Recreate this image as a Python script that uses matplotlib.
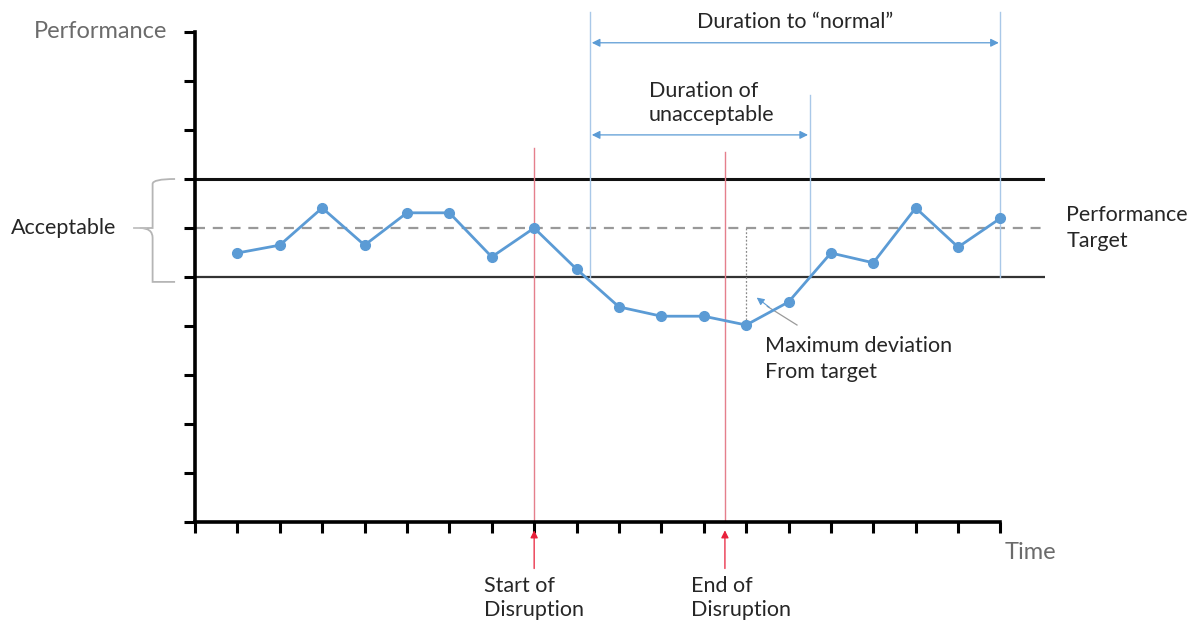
import matplotlib.pyplot as plt
import numpy as np
from matplotlib.path import Path
from matplotlib.patches import PathPatch

# ---------------- datos ----------------
tiempo = list(range(1, 20))
rendimiento = [5.49, 5.65, 6.41, 5.65, 6.31, 6.31, 5.41, 6.0, 5.16, 4.39,
               4.2, 4.2, 4.02, 4.49, 5.49, 5.29, 6.41, 5.61, 6.2]
objetivo = 6.0
banda_sup = 7.0
banda_inf = 5.0
inicio_disrupcion = 8.0
fin_disrupcion = 12.5
t_fuera = 9.32        # salida de la banda aceptable
t_vuelta = 14.5       # vuelta a la banda
t_normal = 19.0       # vuelta a "normal"
t_max_desv = 13.0
y_max_desv = 4.02

plt.rcParams.update({
    'font.family': ['Lato', 'DejaVu Sans'],
    'font.size': 15.5,
})

W, H = 1193, 628
fig = plt.figure(figsize=(W / 100, H / 100), dpi=100)
ax = fig.add_axes([195 / W, 1 - 522 / H, (1045 - 195) / W, (522 - 32) / H])
ax.set_xlim(0, 20.05)
ax.set_ylim(0, 10)

azul = '#5B9BD5'
azul_claro = '#A9C8E8'
rojo = '#E57F8C'
gris_txt = '#6b6b6b'
negro_txt = '#262626'

# ejes
for s in ['top', 'right']:
    ax.spines[s].set_visible(False)
ax.spines['left'].set_linewidth(2.6)
ax.spines['bottom'].set_linewidth(2.6)
ax.spines['bottom'].set_bounds(0, 19)
ax.set_xticks(np.arange(0, 20))
ax.set_yticks(np.arange(0, 11))
ax.tick_params(axis='both', length=8, width=2.2, labelbottom=False, labelleft=False)

# banda aceptable y objetivo
ax.axhline(banda_sup, color='#111111', lw=2.2, zorder=1)
ax.axhline(banda_inf, color='#333333', lw=1.6, zorder=1)
ax.axhline(objetivo, color='#999999', lw=1.6, ls=(0, (4.5, 3.5)), zorder=1)

# lineas rojas de disrupcion
ax.plot([inicio_disrupcion] * 2, [0, 7.63], color=rojo, lw=1.0, zorder=2)
ax.plot([fin_disrupcion] * 2, [0, 7.55], color=rojo, lw=1.0, zorder=2)
for xr in [inicio_disrupcion, fin_disrupcion]:
    ax.annotate('', xy=(xr, -0.17), xytext=(xr, -0.95),
                arrowprops=dict(arrowstyle='-|>', color='#E8203A', lw=0.9,
                                mutation_scale=11, shrinkA=0, shrinkB=0),
                annotation_clip=False)

# lineas azules verticales
ax.plot([t_fuera] * 2, [banda_inf, 10.41], color=azul_claro, lw=1.0, clip_on=False, zorder=2)
ax.plot([t_vuelta] * 2, [banda_inf, 8.71], color=azul_claro, lw=1.0, clip_on=False, zorder=2)
ax.plot([t_normal] * 2, [banda_inf, 10.41], color=azul_claro, lw=1.0, clip_on=False, zorder=2)

# flechas de duracion
flecha = dict(arrowstyle='<|-|>', color=azul, lw=0.9, mutation_scale=12, shrinkA=0, shrinkB=0)
ax.annotate('', xy=(t_fuera + 0.04, 9.78), xytext=(t_normal - 0.04, 9.78),
            arrowprops=flecha, annotation_clip=False)
ax.annotate('', xy=(t_fuera + 0.04, 7.9), xytext=(t_vuelta - 0.04, 7.9),
            arrowprops=flecha, annotation_clip=False)
ax.text(14.15, 10.2, 'Duration to \u201cnormal\u201d', ha='center', va='center',
        color=negro_txt, clip_on=False)
ax.text(10.7, 8.55, 'Duration of\nunacceptable', ha='left', va='center',
        color=negro_txt, linespacing=1.3, clip_on=False)

# serie
ax.plot(tiempo, rendimiento, color=azul, lw=2.0, marker='o', ms=7,
        markerfacecolor=azul, markeredgecolor=azul, zorder=4)

# desviacion maxima
ax.plot([t_max_desv] * 2, [objetivo, y_max_desv + 0.08], color='#8a8a8a', lw=0.9,
        ls=(0, (1.5, 1.5)), zorder=3)
ax.annotate('', xy=(13.25, 4.58), xytext=(13.55, 4.38),
            arrowprops=dict(arrowstyle='-|>', lw=0.8, mutation_scale=11,
                            shrinkA=0, shrinkB=0, fc=azul, ec=azul),
            annotation_clip=False)
ax.plot([13.5, 14.2], [4.4, 4.02], color='#9a9a9a', lw=0.9)
ax.text(13.45, 3.33, 'Maximum deviation\nFrom target', ha='left', va='center',
        color=negro_txt, linespacing=1.4)

# textos
ax.text(-3.8, 10.0, 'Performance', ha='left', va='center', color=gris_txt,
        fontsize=17, clip_on=False)
ax.text(19.1, -0.62, 'Time', ha='left', va='center', color=gris_txt,
        fontsize=17, clip_on=False)
ax.text(-4.35, objetivo, 'Acceptable', ha='left', va='center', color=negro_txt, clip_on=False)
ax.text(20.55, objetivo, 'Performance\nTarget', ha='left', va='center', color=negro_txt,
        linespacing=1.4, clip_on=False)
ax.text(inicio_disrupcion - 1.18, -1.55, 'Start of\nDisruption', ha='left', va='center',
        color=negro_txt, linespacing=1.3, clip_on=False)
ax.text(fin_disrupcion - 0.8, -1.55, 'End of\nDisruption', ha='left', va='center',
        color=negro_txt, linespacing=1.3, clip_on=False)

# llave de "Acceptable"
xb, xr_, xm = -1.0, -0.47, -1.3
verts = [(xr_, 7.0), (xb, 7.0), (xb, 6.9), (xb, 6.75),
         (xb, 6.2), (xb, 6.0), (xm, 6.0),
         (xb, 6.0), (xb, 5.8), (xb, 5.25),
         (xb, 5.0), (xb, 4.9), (xr_, 4.9)]
codes = [Path.MOVETO, Path.CURVE3, Path.CURVE3, Path.LINETO,
         Path.CURVE3, Path.CURVE3, Path.LINETO,
         Path.CURVE3, Path.CURVE3, Path.LINETO,
         Path.CURVE3, Path.CURVE3, Path.LINETO]
ax.add_patch(PathPatch(Path(verts, codes), fill=False, ec='#b5b5b5', lw=1.3, clip_on=False))
ax.plot([-1.45, -1.15], [6.0, 6.0], color='#c0c0c0', lw=1.3, clip_on=False)

fig.savefig('out.png', dpi=100)
